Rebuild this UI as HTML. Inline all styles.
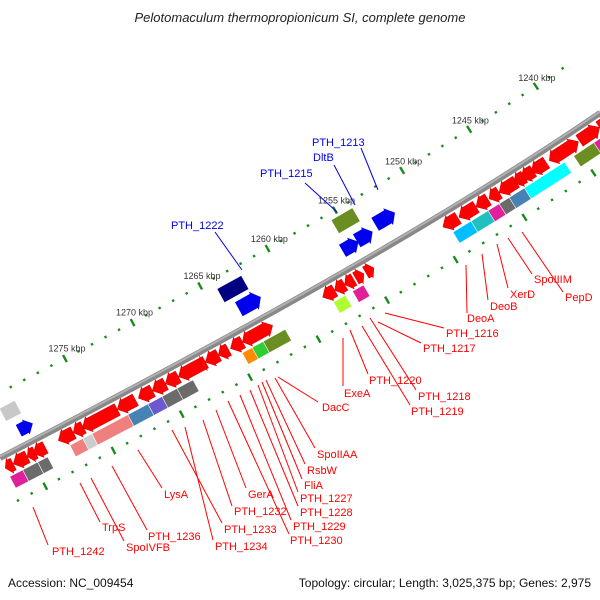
<!DOCTYPE html>
<html><head><meta charset="utf-8">
<style>
body{margin:0;background:#fff;}
svg{display:block;font-family:"Liberation Sans",sans-serif;}
</style></head>
<body>
<svg id="map" width="600" height="600" viewBox="0 0 600 600">
<text x="300" y="22" text-anchor="middle" font-size="13" font-style="italic" fill="#222">Pelotomaculum thermopropionicum SI, complete genome</text>
<text x="8" y="587" font-size="12" fill="#111">Accession: NC_009454</text>
<text x="591" y="587" font-size="12" fill="#111" text-anchor="end">Topology: circular; Length: 3,025,375 bp; Genes: 2,975</text>
<g id="g"></g>
</svg>
<script>
const P0=[0,458],P1=[200,354],P2=[420,236],P3=[600,113];
function bez(t){const u=1-t;
 const x=u*u*u*P0[0]+3*u*u*t*P1[0]+3*u*t*t*P2[0]+t*t*t*P3[0];
 const y=u*u*u*P0[1]+3*u*u*t*P1[1]+3*u*t*t*P2[1]+t*t*t*P3[1];
 const dx=3*u*u*(P1[0]-P0[0])+6*u*t*(P2[0]-P1[0])+3*t*t*(P3[0]-P2[0]);
 const dy=3*u*u*(P1[1]-P0[1])+6*u*t*(P2[1]-P1[1])+3*t*t*(P3[1]-P2[1]);
 return {x,y,dx,dy};}
function invX(x){let a=-0.3,b=1.3;for(let i=0;i<40;i++){const m=(a+b)/2;if(bez(m).x<x)a=m;else b=m;}return (a+b)/2;}
function pt(x,off){const p=bez(invX(x));const l=Math.hypot(p.dx,p.dy);return [p.x-p.dy/l*off,p.y+p.dx/l*off];}
const kbpX0=1275, xAt1275=92, pxPerKbp=13.6;
function kx(k){return xAt1275+(kbpX0-k)*pxPerKbp;}

const kbpLabels=[1240,1245,1250,1255,1260,1265,1270,1275];
const redRow=[[0,8,-1],[8,22,-1],[22,30,-1],[28,40,-1],[53,68,-1],[68,78,-1],[77,112,-1],[112,130,-1],[133,147,-1],[147,160,-1],[160,173,-1],[173,197,-1],[195,200,-1],[200,213,-1],[213,223,-1],[225,237,-1],[237,247,-1],[247,267,1],
 [317,329,-1],[329,339,-1],[339,348,-1],[350,358,1],[360,368,1],
 [437,452,-1],[453,470,-1],[470,482,-1],[483,493,-1],[493,510,-1],[508,518,-1],[515,527,-1],[525,540,-1],[543,553,-1],[553,572,1],[573,593,1],[593,605,1]];
const boxRow=[[0,13,'#e0209a'],[13,28,'#6b6b6b'],[28,38,'#6b6b6b'],[60,73,'#f08080'],[73,85,'#cccccc'],[82,122,'#f08080'],[118,140,'#4682b4'],[138,157,'#6a5acd'],[152,168,'#6b6b6b'],[167,183,'#6b6b6b'],[232,245,'#ff8c00'],[242,258,'#32cd32'],[253,275,'#6b8e23'],[323,335,'#adff2f'],[342,353,'#e0209a'],[442,462,'#00bfff'],[460,480,'#20c0c0'],[477,493,'#e0209a'],[488,503,'#6b6b6b'],[498,518,'#4682b4'],[513,553,'#00ffff'],[562,583,'#6b8e23'],[582,605,'#e0209a']];
const outerRow=[[26,40,-9,-22,'#0000ee',1],[20,35,-30,-44,'#c8c8c8',0],[248,270,-11,-27,'#0000ee',1],[240,264,-32,-47,'#000080',0],[352,368,-12,-26,'#0000ee',1],[367,383,-13,-28,'#0000ee',1],[388,408,-18,-33,'#0000ee',1],[357,378,-36,-51,'#6b8e23',0]];
const labels=[["PTH_1242",52,555,48,545,33,507],["TrpS",102,531,100,522,80,483],["SpoIVFB",126,551,124,541,91,478],["PTH_1236",148,540,147,530,112,466],["LysA",164,498,162,488,138,450],["PTH_1234",215,550,213,540,185,427],["PTH_1233",224,533,222,523,172,430],["PTH_1232",234,515,232,506,203,420],["GerA",248,498,246,488,216,410],["PTH_1230",290,544,289,534,228,401],["PTH_1229",293,530,291,520,240,395],["PTH_1228",300,516,298,506,250,390],["PTH_1227",300,502,298,492,258,385],["FliA",304,489,302,479,262,382],["RsbW",307,474,305,464,266,380],["SpoIIAA",317,458,315,448,275,378],["DacC",322,411,318,402,278,377],["ExeA",344,397,343,386,343,338],["PTH_1220",369,384,368,374,350,330],["PTH_1219",411,415,410,405,362,326],["PTH_1218",418,400,416,390,370,318],["PTH_1217",423,352,421,343,378,322],["PTH_1216",446,337,444,328,385,313],["DeoA",467,322,467,313,466,265],["DeoB",490,310,488,300,482,254],["XerD",510,298,508,288,497,244],["SpoIIIM",534,283,532,274,508,238],["PepD",565,301,563,292,522,232]];
const blueLabels=[["PTH_1222",171,229,215,232,242,270],["PTH_1215",260,177,305,183,337,212],["DltB",313,161,334,165,355,205],["PTH_1213",312,146,361,148,378,190]];

const NS='http://www.w3.org/2000/svg';const G=document.getElementById('g');
function mk(tag,attrs,parent){const e=document.createElementNS(NS,tag);for(const k in attrs)e.setAttribute(k,attrs[k]);(parent||G).appendChild(e);return e;}
function polyStr(a){return a.map(p=>p[0].toFixed(1)+','+p[1].toFixed(1)).join(' ');}
function shape(x0,x1,o0,o1,dir){const h=Math.min(7,(x1-x0)*0.6);const om=(o0+o1)/2;
 if(dir===0)return [pt(x0,o0),pt(x1,o0),pt(x1,o1),pt(x0,o1)];
 if(dir>0)return [pt(x0,o0),pt(x1-h,o0),pt(x1-h,o0-(o1-o0)*0.15),pt(x1,om),pt(x1-h,o1+(o1-o0)*0.15),pt(x1-h,o1),pt(x0,o1)];
 return [pt(x1,o0),pt(x0+h,o0),pt(x0+h,o0-(o1-o0)*0.15),pt(x0,om),pt(x0+h,o1+(o1-o0)*0.15),pt(x0+h,o1),pt(x1,o1)];}

const bb=mk('path',{d:`M${P0} C${P1} ${P2} ${P3}`,stroke:'#888',"stroke-width":6,fill:'none'});


const bb2=mk('path',{d:`M${P0} C${P1} ${P2} ${P3}`,stroke:'#b0b0b0',"stroke-width":2,fill:'none',transform:'translate(0,-1.5)'});



for(let k=1236;k<=1284;k++){const x=kx(k);if(x<-5||x>605)continue;
 [[-58],[46]].forEach(([o])=>{const big=k%5===0;const a=pt(x,o-(big?4:1.2)),b=pt(x,o+(big?4:1.2));
  const d=mk('line',{x1:a[0],y1:a[1],x2:b[0],y2:b[1],stroke:'#1a8a1a',"stroke-width":2.4});
  
  });}
kbpLabels.forEach(k=>{const p=pt(kx(k)-10,-72);
 const t=mk('text',{x:p[0],y:p[1],"font-size":9,fill:'#333'});t.textContent=k+' kbp';
 
 });

redRow.forEach(r=>{const e=mk('polygon',{points:polyStr(shape(r[0],r[1],5,18,r[2])),fill:'#ff0000',stroke:'#d00000',"stroke-width":0.5});
 
 });
boxRow.forEach(r=>{const e=mk('polygon',{points:polyStr(shape(r[0],r[1],21,34,0)),fill:r[2],stroke:'#fff',"stroke-width":0.6});
 
 });
outerRow.forEach(r=>{const e=mk('polygon',{points:polyStr(shape(r[0],r[1],r[2],r[3],r[5])),fill:r[4]});
 
 });

function drawLabels(arr,col){arr.forEach(l=>{
 const ln=mk('line',{x1:l[3],y1:l[4],x2:l[5],y2:l[6],stroke:col,"stroke-width":1});
 
 
 const t=mk('text',{x:l[1],y:l[2],"font-size":11,fill:col});t.textContent=l[0];
 
 });}
drawLabels(labels,'#ff0000');drawLabels(blueLabels,'#0000ee');
</script>
</body></html>
